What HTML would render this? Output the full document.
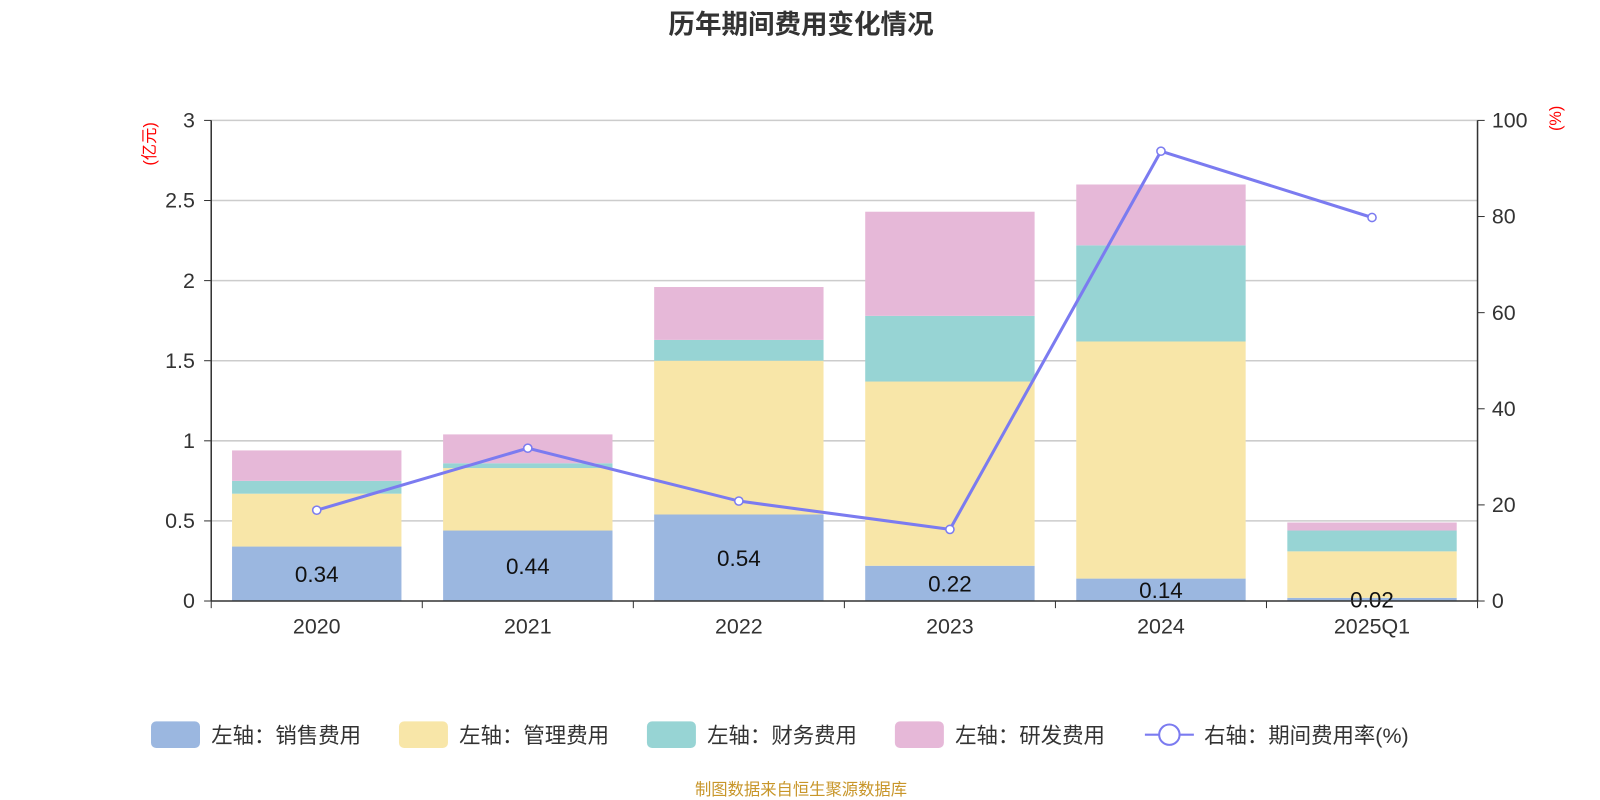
<!DOCTYPE html>
<html><head><meta charset="utf-8"><style>
body{margin:0;background:#fff;}
svg{display:block;font-family:"Liberation Sans","Noto Sans CJK SC",sans-serif;}
</style></head><body>
<svg width="1600" height="800">
<g transform="scale(1.0204)">
<text x="785" y="33" text-anchor="middle" font-size="26" font-weight="bold" fill="#333">历年期间费用变化情况</text>
<text transform="translate(152,141) rotate(-90)" text-anchor="middle" font-size="16" fill="#f00">(亿元)</text>
<text transform="translate(1530,116) rotate(-90)" text-anchor="middle" font-size="16" fill="#f00">(%)</text>
<g id="grid"></g><g id="bars"></g><g id="axes"></g><g id="line"></g>
<g id="legend"></g>
<text x="785" y="779" text-anchor="middle" font-size="16" fill="#c8962a">制图数据来自恒生聚源数据库</text>
</g>
</svg>
<script>
const categories=["2020","2021","2022","2023","2024","2025Q1"];
const sales=[0.34,0.44,0.54,0.22,0.14,0.02];
const mgmt=[0.33,0.39,0.96,1.15,1.48,0.29];
const finance=[0.08,0.03,0.13,0.41,0.60,0.13];
const rnd=[0.19,0.18,0.33,0.65,0.38,0.05];
const rate=[18.9,31.8,20.8,14.9,93.6,79.8];
const leftTicks=[0,0.5,1,1.5,2,2.5,3];
const rightTicks=[0,20,40,60,80,100];
const seriesNames=["左轴：销售费用","左轴：管理费用","左轴：财务费用","左轴：研发费用"];
const colors=["#9bb7e0","#f8e6a8","#97d4d4","#e6b8d8"];
const X0=207,X1=1448,Y0=589,Y1=118;
const yL=v=>Y0-(Y0-Y1)*v/3, yR=v=>Y0-(Y0-Y1)*v/100;
const bw=(X1-X0)/categories.length, xc=i=>X0+bw*(i+0.5);
const NS="http://www.w3.org/2000/svg";
function mk(p,t,a,txt){const e=document.createElementNS(NS,t);for(const k in a)e.setAttribute(k,a[k]);if(txt!==undefined)e.textContent=txt;document.getElementById(p).appendChild(e);return e;}
leftTicks.forEach((t,i)=>{
 if(i>0){const g=mk("grid","line",{x1:X0,x2:X1,y1:yL(t),y2:yL(t),stroke:"#ccc","stroke-width":1.5});
 
 }
 const l=mk("axes","text",{x:X0-16,y:yL(t)+7,"text-anchor":"end","font-size":21,fill:"#333"},String(t));
 
 
 mk("axes","line",{x1:X0-7,x2:X0,y1:yL(t),y2:yL(t),stroke:"#333"});
});
rightTicks.forEach(t=>{
 const l=mk("axes","text",{x:X1+14,y:yR(t)+7,"font-size":21,fill:"#333"},String(t));
 
 
 mk("axes","line",{x1:X1,x2:X1+7,y1:yR(t),y2:yR(t),stroke:"#333"});
});
mk("axes","line",{x1:X0,x2:X0,y1:Y1,y2:Y0,stroke:"#333","stroke-width":1.5});
mk("axes","line",{x1:X1,x2:X1,y1:Y1,y2:Y0,stroke:"#333","stroke-width":1.5});
mk("axes","line",{x1:X0,x2:X1,y1:Y0,y2:Y0,stroke:"#333","stroke-width":1.5});
for(let i=0;i<=categories.length;i++)mk("axes","line",{x1:X0+bw*i,x2:X0+bw*i,y1:Y0,y2:Y0+7,stroke:"#333"});
const stacks=[sales,mgmt,finance,rnd];
categories.forEach((c,i)=>{
 const l=mk("axes","text",{x:xc(i),y:Y0+32,"text-anchor":"middle","font-size":21,fill:"#333"},c);
 
 
 let base=0;
 stacks.forEach((s,k)=>{
  const r=mk("bars","rect",{x:xc(i)-83,width:166,y:yL(base+s[i]),height:yL(base)-yL(base+s[i]),fill:colors[k]});
  
  
  base+=s[i];
 });
 const v=mk("bars","text",{x:xc(i),y:(yL(0)+yL(sales[i]))/2+8,"text-anchor":"middle","font-size":22,fill:"#111"},sales[i].toFixed(2));
 
 
});
const pts=rate.map((r,i)=>xc(i)+","+yR(r)).join(" ");
const pl=mk("line","polyline",{points:pts,fill:"none",stroke:"#7b7bf0","stroke-width":3});


rate.forEach((r,i)=>{const p=mk("line","circle",{cx:xc(i),cy:yR(r),r:4,fill:"#fff",stroke:"#7b7bf0","stroke-width":1.5});
 
 });
const lx=[148,391,634,877];
seriesNames.forEach((n,k)=>{
 const g=mk("legend","g",{});
 
 
 const r=document.createElementNS(NS,"rect");
 [["x",lx[k]],["y",707],["width",48],["height",26],["rx",5],["fill",colors[k]]].forEach(a=>r.setAttribute(a[0],a[1]));g.appendChild(r);
 const t=document.createElementNS(NS,"text");
 [["x",lx[k]+59],["y",728],["font-size",21],["fill",'#333']].forEach(a=>t.setAttribute(a[0],a[1]));t.textContent=n;g.appendChild(t);
});
const g=mk("legend","g",{});


g.innerHTML='<line x1="1122" x2="1170" y1="720" y2="720" stroke="#7b7bf0" stroke-width="2"/><circle cx="1146" cy="720" r="10" fill="#fff" stroke="#7b7bf0" stroke-width="2"/><text x="1180" y="728" font-size="21" fill="#333">右轴：期间费用率(%)</text>';
</script>
</body></html>
